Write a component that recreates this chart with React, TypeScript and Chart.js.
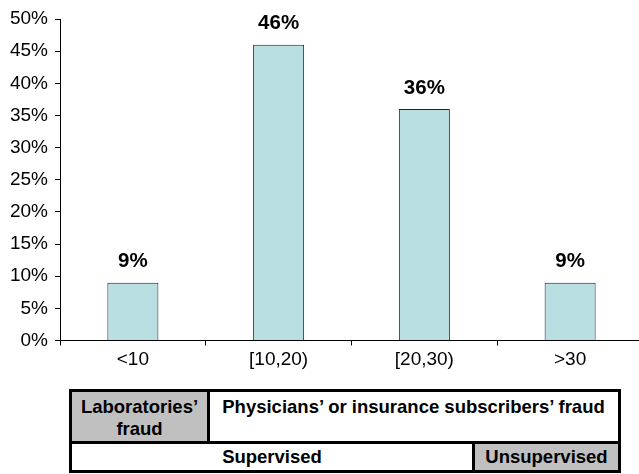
import React, { useEffect, useRef } from "react";
import { Chart, registerables } from "chart.js";

Chart.register(...registerables);

const categories = ["<10", "[10,20)", "[20,30)", ">30"];
const values = [9, 46, 36, 9];
const valueLabels = ["9%", "46%", "36%", "9%"];
const yTicksMax = 50;
const yStep = 5;

const FONT = "'Liberation Sans', Arial, Helvetica, sans-serif";

const valueLabelPlugin = {
  id: "valueLabels",
  afterDatasetsDraw(chart: any) {
    const ctx = chart.ctx;
    const meta = chart.getDatasetMeta(0);
    ctx.save();
    ctx.font = `bold 20.5px ${FONT}`;
    ctx.fillStyle = "#000";
    ctx.textAlign = "center";
    ctx.textBaseline = "alphabetic";
    meta.data.forEach((el: any, i: number) => {
      ctx.fillText(valueLabels[i], el.x, el.y - 15.5);
    });
    ctx.restore();
  },
};

export default function App() {
  const ref = useRef<HTMLCanvasElement | null>(null);

  useEffect(() => {
    if (!ref.current) return;
    const chart = new Chart(ref.current, {
      type: "bar",
      data: {
        labels: categories,
        datasets: [
          {
            data: values,
            backgroundColor: "rgb(185,223,227)",
            borderColor: "#222",
            borderWidth: 1,
            barPercentage: 0.35,
            categoryPercentage: 1,
          },
        ],
      },
      options: {
        responsive: false,
        animation: false,
        devicePixelRatio: 1,
        layout: { padding: { top: 19, right: 7, left: 0, bottom: 0 } },
        plugins: {
          legend: { display: false },
          tooltip: { enabled: false },
        },
        scales: {
          x: {
            grid: {
              drawOnChartArea: false,
              drawTicks: true,
              tickLength: 5,
              color: "#000",
              offset: true,
            },
            border: { color: "#000", width: 1 },
            ticks: {
              color: "#000",
              font: { family: FONT, size: 19 },
              padding: 3,
            },
            afterFit(scale: any) {
              scale.height = 39.5;
            },
          },
          y: {
            min: 0,
            max: yTicksMax,
            grid: {
              drawOnChartArea: false,
              drawTicks: true,
              tickLength: 5,
              color: "#000",
            },
            border: { color: "#000", width: 1 },
            ticks: {
              stepSize: yStep,
              color: "#000",
              padding: 7,
              font: { family: FONT, size: 19 },
              callback: (v: any) => `${v}%`,
            },
            afterFit(scale: any) {
              scale.width = 60;
            },
          },
        },
      },
      plugins: [valueLabelPlugin],
    });
    return () => chart.destroy();
  }, []);

  const textStyle: React.CSSProperties = {
    position: "absolute",
    fontFamily: FONT,
    fontWeight: "bold",
    fontSize: "18.5px",
    color: "#000",
    textAlign: "center",
    whiteSpace: "nowrap",
  };

  return (
    <div
      style={{
        position: "fixed",
        left: 0,
        top: 0,
        width: 639,
        height: 474,
        overflow: "hidden",
        background: "#fff",
      }}
    >
      <canvas
        ref={ref}
        width={650}
        height={380}
        style={{ position: "absolute", left: 0, top: 0, width: 650, height: 380 }}
      />
      {/* gray cells */}
      <div style={{ position: "absolute", left: 72, top: 392, width: 135, height: 49, background: "#C0C0C0" }} />
      <div style={{ position: "absolute", left: 474, top: 444, width: 145, height: 26, background: "#C0C0C0" }} />
      {/* frame */}
      <div
        style={{
          position: "absolute",
          left: 69,
          top: 389,
          width: 552,
          height: 84,
          border: "3px solid #000",
          boxSizing: "border-box",
        }}
      />
      <div style={{ position: "absolute", left: 69, top: 441, width: 552, height: 3, background: "#000" }} />
      <div style={{ position: "absolute", left: 207, top: 389, width: 2.5, height: 54, background: "#000" }} />
      <div style={{ position: "absolute", left: 472, top: 442, width: 2.5, height: 30, background: "#000" }} />
      {/* texts */}
      <div style={{ ...textStyle, left: 72, top: 395.5, width: 135, lineHeight: "22px" }}>
        Laboratories’
        <br />
        fraud
      </div>
      <div style={{ ...textStyle, left: 209, top: 395.5, width: 409, lineHeight: "22px" }}>
        Physicians’ or insurance subscribers’ fraud
      </div>
      <div style={{ ...textStyle, left: 72, top: 443.5, width: 400, lineHeight: "26px" }}>
        Supervised
      </div>
      <div style={{ ...textStyle, left: 474, top: 443.5, width: 145, lineHeight: "26px" }}>
        Unsupervised
      </div>
    </div>
  );
}
